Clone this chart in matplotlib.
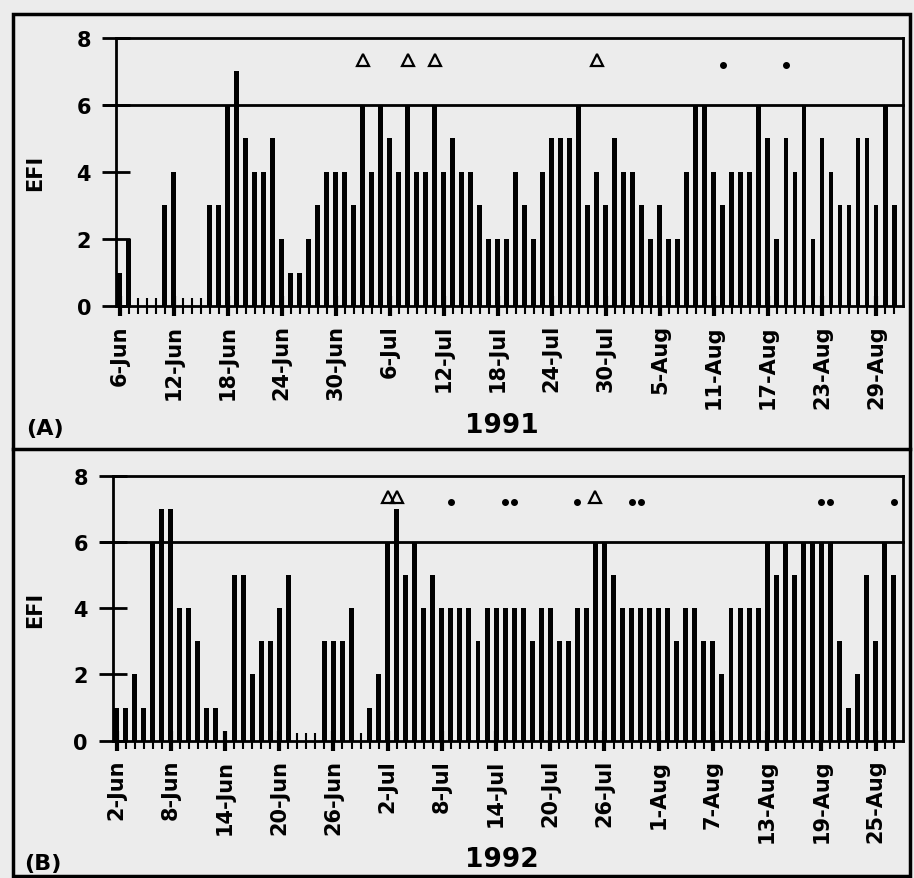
import numpy as np
import matplotlib.pyplot as plt
from matplotlib.patches import Rectangle
from matplotlib.lines import Line2D

# daily EFI, 6-Jun .. 31-Aug 1991
efi_1991 = [1, 2, 0, 0, 0, 3, 4, 0, 0, 0, 3, 3, 6, 7, 5, 4, 4, 5, 2, 1,
            1, 2, 3, 4, 4, 4, 3, 6, 4, 6, 5, 4, 6, 4, 4, 6, 4, 5, 4, 4,
            3, 2, 2, 2, 4, 3, 2, 4, 5, 5, 5, 6, 3, 4, 3, 5, 4, 4, 3, 2,
            3, 2, 2, 4, 6, 6, 4, 3, 4, 4, 4, 6, 5, 2, 5, 4, 6, 2, 5, 4,
            3, 3, 5, 5, 3, 6, 3]

# daily EFI, 2-Jun .. 27-Aug 1992
efi_1992 = [1, 1, 2, 1, 6, 7, 7, 4, 4, 3, 1, 1, 0, 5, 5, 2, 3, 3, 4, 5,
            0, 0, 0, 3, 3, 3, 4, 0, 1, 2, 6, 7, 5, 6, 4, 5, 4, 4, 4, 4,
            3, 4, 4, 4, 4, 4, 3, 4, 4, 3, 3, 4, 4, 6, 6, 5, 4, 4, 4, 4,
            4, 4, 3, 4, 4, 3, 3, 2, 4, 4, 4, 4, 6, 5, 6, 5, 6, 6, 6, 6,
            3, 1, 2, 5, 3, 6, 5]

labels_1991 = ['6-Jun', '12-Jun', '18-Jun', '24-Jun', '30-Jun', '6-Jul', '12-Jul',
               '18-Jul', '24-Jul', '30-Jul', '5-Aug', '11-Aug', '17-Aug', '23-Aug', '29-Aug']
labels_1992 = ['2-Jun', '8-Jun', '14-Jun', '20-Jun', '26-Jun', '2-Jul', '8-Jul',
               '14-Jul', '20-Jul', '26-Jul', '1-Aug', '7-Aug', '13-Aug', '19-Aug', '25-Aug']

# day index of the symbols drawn above the bars
tri_1991 = [27, 32, 35, 53]
dot_1991 = [67, 74]
tri_1992 = [30, 31, 53]
dot_1992 = [37, 43, 44, 51, 57, 58, 78, 79, 86]

BG = '#ececec'
FONT = 'DejaVu Sans'


def draw_panel(ax, values, labels, tri, dot):
    '''One EFI bar panel with threshold line at 6.'''
    x = np.arange(len(values))
    ax.set_facecolor(BG)
    ax.bar(x, values, width=0.55, color='black', linewidth=0)
    ax.axhline(6, color='black', lw=2, xmin=-0.015, clip_on=False)
    ax.plot(tri, [7.35] * len(tri), ls='none', marker='^', ms=8,
            mfc='none', mec='black', mew=1.6)
    ax.plot(dot, [7.2] * len(dot), ls='none', marker='o', ms=4, color='black')

    ax.set_xlim(-0.4, 87)
    ax.set_ylim(0, 8)
    for side in ['left', 'right', 'top', 'bottom']:
        ax.spines[side].set_linewidth(2)

    ax.set_yticks([0, 2, 4, 6, 8])
    ax.tick_params(axis='y', direction='inout', length=20, width=2, pad=8,
                   labelsize=15)
    ax.set_xticks(np.arange(0, len(values), 6))
    ax.set_xticks(np.arange(0, len(values)), minor=True)
    ax.set_xticklabels(labels, rotation=90, fontsize=15, fontweight='bold')
    ax.tick_params(axis='x', which='major', direction='inout', length=14,
                   width=3, pad=6)
    ax.tick_params(axis='x', which='minor', direction='inout', length=12,
                   width=1.5)
    for t in ax.get_yticklabels():
        t.set_fontweight('bold')


plt.rcParams['font.family'] = FONT

fig = plt.figure(figsize=(9.14, 8.79), dpi=100, facecolor=BG)

ax_a = fig.add_axes([0.127, 0.6507, 0.861, 0.305])
draw_panel(ax_a, efi_1991, labels_1991, tri_1991, dot_1991)

ax_b = fig.add_axes([0.1236, 0.1562, 0.864, 0.3015])
draw_panel(ax_b, efi_1992, labels_1992, tri_1992, dot_1992)

# outer frame and divider
fig.add_artist(Rectangle((13 / 914, 2 / 879), 897 / 914, 862 / 879,
                         transform=fig.transFigure, fill=False, lw=2.5, color='black'))
fig.add_artist(Line2D([13 / 914, 910 / 914], [0.488, 0.488],
                      transform=fig.transFigure, lw=2.5, color='black'))

for y in [0.803, 0.306]:
    fig.text(0.038, y, 'EFI', rotation=90, ha='center', va='center',
             fontsize=15, fontweight='bold')
fig.text(0.049, 0.512, '(A)', ha='center', va='center', fontsize=16, fontweight='bold')
fig.text(0.047, 0.017, '(B)', ha='center', va='center', fontsize=16, fontweight='bold')
fig.text(0.549, 0.515, '1991', ha='center', va='center', fontsize=19, fontweight='bold')
fig.text(0.549, 0.0216, '1992', ha='center', va='center', fontsize=19, fontweight='bold')

fig.savefig('out.png', dpi=100, facecolor=BG)
